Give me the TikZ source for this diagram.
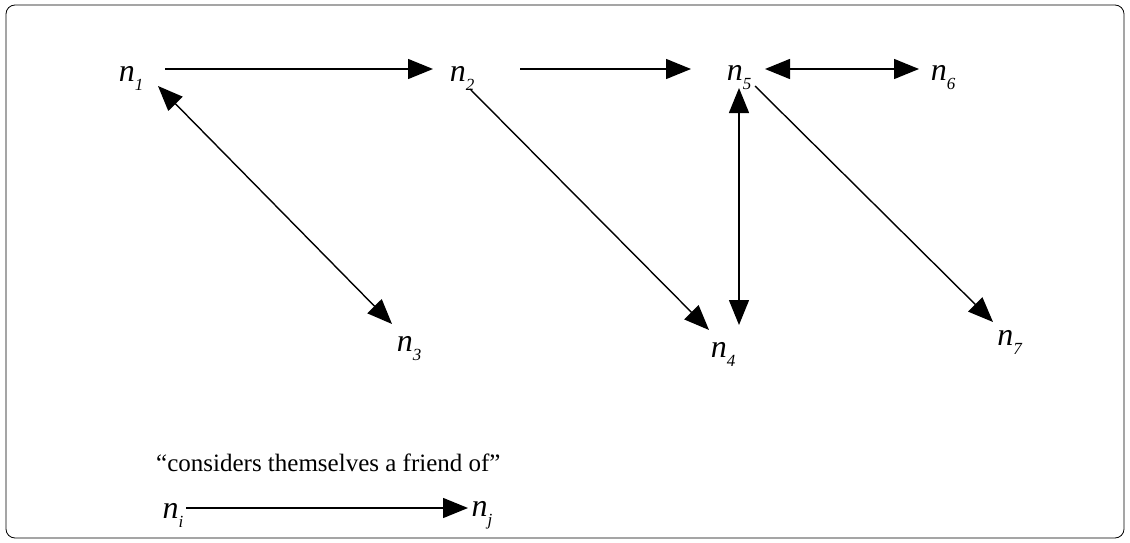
\documentclass[tikz,border=0pt]{standalone}
\usepackage{fontspec}
\setmainfont{Liberation Serif}
\usetikzlibrary{arrows.meta}
\newcommand{\nn}[1]{\textit{n}\raisebox{-0.28em}{\fontsize{17}{17}\selectfont\textit{#1}}}
\begin{document}
\begin{tikzpicture}[x=1pt,y=-1pt,
  lab/.style={font=\fontsize{32}{34}\selectfont, inner sep=0pt},
  tip/.tip={Triangle[length=25pt,width=20pt]},
  edge/.style={line width=1.4pt, -tip},
  bedge/.style={line width=1.4pt, tip-tip}]
\useasboundingbox (0,0) rectangle (1130,543);
\draw[line width=0.8pt, rounded corners=9pt] (6,5) rectangle (1124,538);
\node[lab] (n1) at (131,78) {\nn{1}};
\node[lab] (n2) at (462,78) {\nn{2}};
\node[lab] (n5) at (739,78) {\nn{5}};
\node[lab] (n6) at (943,78) {\nn{6}};
\node[lab] (n3) at (409,349) {\nn{3}};
\node[lab] (n4) at (723,354) {\nn{4}};
\node[lab] (n7) at (1010,342) {\nn{7}};
\coordinate (a1s) at (165,69); \coordinate (a1e) at (433,69);
\coordinate (a2s) at (520,69); \coordinate (a2e) at (691,69);
\coordinate (a3s) at (765,69); \coordinate (a3e) at (919,69);
\coordinate (b1s) at (158,86); \coordinate (b1e) at (392,324);
\coordinate (b2s) at (470,89); \coordinate (b2e) at (709,330);
\coordinate (b3s) at (739,88); \coordinate (b3e) at (739,325);
\coordinate (b4s) at (755,86); \coordinate (b4e) at (993,322);
\draw[edge] (a1s) -- (a1e);
\draw[edge] (a2s) -- (a2e);
\draw[bedge] (a3s) -- (a3e);
\draw[bedge] (b1s) -- (b1e);
\draw[edge] (b2s) -- (b2e);
\draw[bedge] (b3s) -- (b3e);
\draw[edge] (b4s) -- (b4e);
\node[font=\fontsize{25}{28}\selectfont, anchor=west, inner sep=0pt] (leg) at (156,463) {``considers themselves a friend of''};
\node[lab] (ni) at (173,515) {\nn{i}};
\node[lab] (nj) at (482,515) {\nn{j}};
\coordinate (ls) at (186,508); \coordinate (le) at (468,508);
\draw[edge] (ls) -- (le);
\end{tikzpicture}
\end{document}
